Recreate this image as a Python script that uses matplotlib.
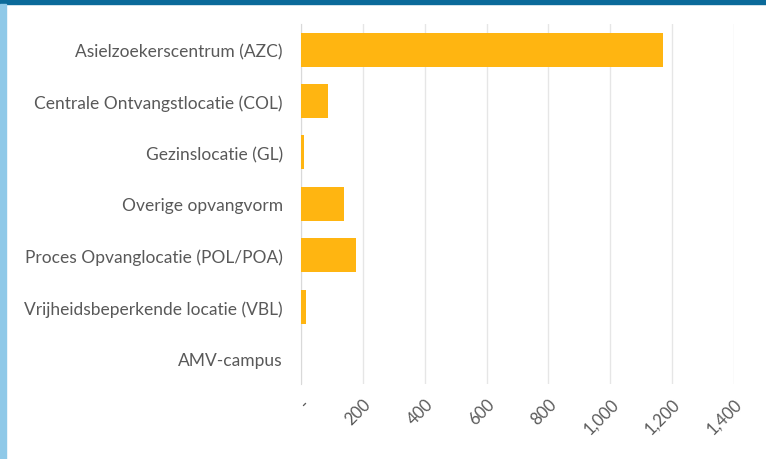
import matplotlib.pyplot as plt
from matplotlib.patches import Rectangle
from matplotlib.ticker import FuncFormatter

categories = [
    "Asielzoekerscentrum (AZC)",
    "Centrale Ontvangstlocatie (COL)",
    "Gezinslocatie (GL)",
    "Overige opvangvorm",
    "Proces Opvanglocatie (POL/POA)",
    "Vrijheidsbeperkende locatie (VBL)",
    "AMV-campus",
]
values = [1170, 86, 8, 138, 177, 15, 0]
xticks = [0, 200, 400, 600, 800, 1000, 1200, 1400]

plt.rcParams['font.family'] = ['Lato', 'DejaVu Sans']

fig = plt.figure(figsize=(7.66, 4.60), dpi=100)
ax = fig.add_axes([0.393, 0.163, 0.565, 0.783])

# header band and side strip
fig.patches.append(Rectangle((0, 0.99), 1, 0.01, transform=fig.transFigure,
                             color='#0B6A9A', zorder=0))
fig.patches.append(Rectangle((0, 0), 0.008, 0.99, transform=fig.transFigure,
                             color='#8FC9E8', zorder=0))

y = list(range(len(categories)))
ax.barh(y, values, height=0.66, color='#FFB511', zorder=3)
ax.set_yticks(y)
ax.set_yticklabels(categories)
ax.set_ylim(len(categories) - 0.5, -0.5)

ax.set_xlim(0, 1400)
ax.set_xticks(xticks)
ax.xaxis.set_major_formatter(FuncFormatter(lambda v, p: '-' if v == 0 else f'{int(v):,}'))
for lab in ax.get_xticklabels():
    lab.set_rotation(45)
    lab.set_ha('right')
    lab.set_rotation_mode('anchor')
    lab.set_fontsize(12)

ax.grid(axis='x', color='#E6E6E6', lw=1, zorder=0)
ax.tick_params(length=0, colors='#595959')
ax.tick_params(axis='y', labelsize=12.5, pad=13)
ax.tick_params(axis='x', pad=8)
for s in ['top', 'right', 'bottom']:
    ax.spines[s].set_visible(False)
ax.spines['left'].set_color('#D9D9D9')

fig.savefig('out.png', dpi=100)
